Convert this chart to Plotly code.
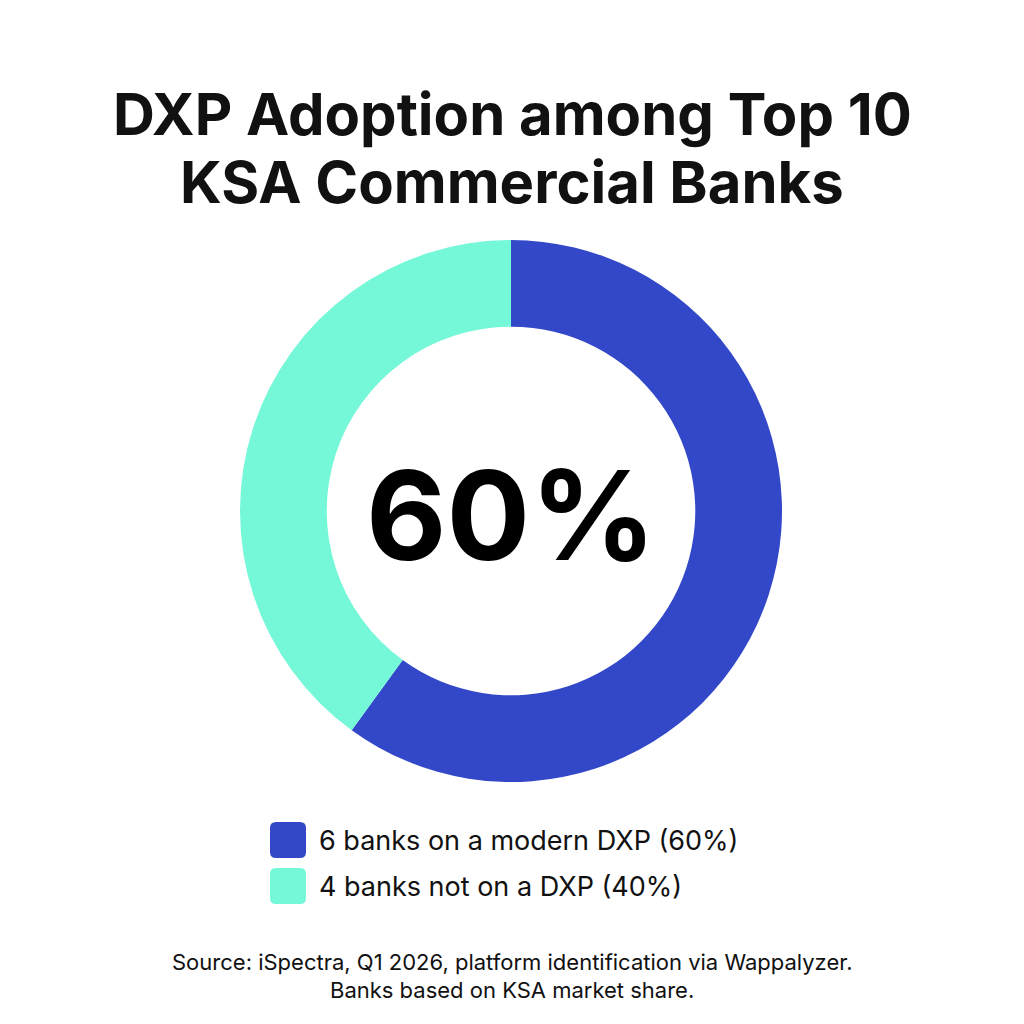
import plotly.graph_objects as go

# Data
categories = ["6 banks on a modern DXP (60%)", "4 banks not on a DXP (40%)"]
values = [6, 4]
colors = ["#3248C8", "#74F8D8"]
center_label = "60%"
title_lines = ["DXP Adoption among Top 10", "KSA Commercial Banks"]
source_lines = ["Source: iSpectra, Q1 2026, platform identification via Wappalyzer.",
                "Banks based on KSA market share."]

W = H = 1024
FONT = "Inter"

fig = go.Figure()
cx, cy, r = 511, 511, 271
fig.add_trace(go.Pie(
    labels=categories, values=values, hole=0.68, sort=False,
    direction="clockwise", rotation=0,
    marker=dict(colors=colors, line=dict(width=0)),
    textinfo="none", hoverinfo="label+value", showlegend=False,
    domain=dict(x=[(cx - r) / W, (cx + r) / W], y=[1 - (cy + r) / H, 1 - (cy - r) / H]),
))

annotations = []
for line, yy in zip(title_lines, [114, 182]):
    annotations.append(dict(text="<b>" + line + "</b>", x=0.5, y=1 - yy / H, xref="paper", yref="paper",
                            xanchor="center", yanchor="middle", showarrow=False,
                            font=dict(family=FONT, size=58, color="#111111")))
annotations.append(dict(text="<b>" + center_label + "</b>", x=cx / W, y=1 - 515 / H, xref="paper", yref="paper",
                        xanchor="center", yanchor="middle", showarrow=False,
                        font=dict(family=FONT, size=124, color="#000000")))
for line, yy in zip(source_lines, [962, 990]):
    annotations.append(dict(text=line, x=0.5, y=1 - yy / H, xref="paper", yref="paper",
                            xanchor="center", yanchor="middle", showarrow=False,
                            font=dict(family=FONT, size=22, color="#111111")))

shapes = []
def rounded(x0, y0, x1, y1, rad):
    # pixel coords -> paper
    def p(x, y):
        return f"{x / W:.5f},{1 - y / H:.5f}"
    return (f"M {p(x0 + rad, y0)} L {p(x1 - rad, y0)} Q {p(x1, y0)} {p(x1, y0 + rad)} "
            f"L {p(x1, y1 - rad)} Q {p(x1, y1)} {p(x1 - rad, y1)} L {p(x0 + rad, y1)} "
            f"Q {p(x0, y1)} {p(x0, y1 - rad)} L {p(x0, y0 + rad)} Q {p(x0, y0)} {p(x0 + rad, y0)} Z")

leg_y = [840, 886]
for i, (lab, col) in enumerate(zip(categories, colors)):
    yc = leg_y[i]
    shapes.append(dict(type="path", xref="paper", yref="paper",
                       path=rounded(270, yc - 18, 306, yc + 18, 6),
                       fillcolor=col, line=dict(width=0)))
    annotations.append(dict(text=lab, x=317 / W, y=1 - yc / H, xref="paper", yref="paper",
                            xanchor="left", yanchor="middle", showarrow=False,
                            font=dict(family=FONT, size=27, color="#111111")))

fig.update_layout(width=W, height=H, margin=dict(l=0, r=0, t=0, b=0),
                  paper_bgcolor="white", plot_bgcolor="white",
                  annotations=annotations, shapes=shapes, showlegend=False)
fig.write_html("out.html")
